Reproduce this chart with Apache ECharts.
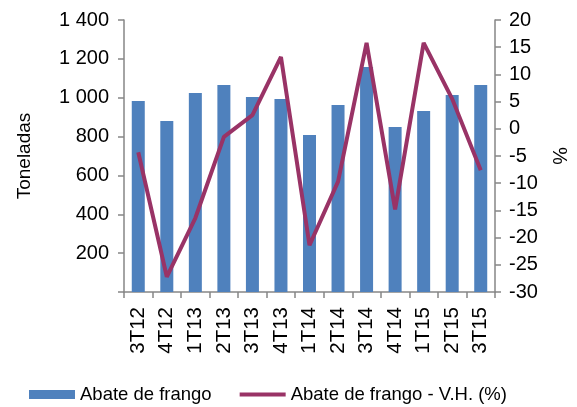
<!DOCTYPE html>
<html>
<head>
<meta charset="utf-8">
<script src="https://cdn.jsdelivr.net/npm/echarts@6/dist/echarts.min.js"></script>
<style>
html, body { margin: 0; padding: 0; background: #fff; }
#chart { width: 577px; height: 407px; }
</style>
</head>
<body>
<div id="chart"></div>
<script>
// trimestres
var categories = ['3T12', '4T12', '1T13', '2T13', '3T13', '4T13', '1T14', '2T14', '3T14', '4T14', '1T15', '2T15', '3T15'];
// toneladas
var abate = [983, 880, 1024, 1065, 1004, 993, 808, 962, 1158, 849, 932, 1014, 1065];
// variação homóloga (%)
var variacao = [-4.3, -27.2, -16.4, -1.5, 2.5, 13.2, -21.4, -9.7, 15.8, -14.8, 15.8, 5.5, -7.6];

var chart = echarts.init(document.getElementById('chart'));
var axisColor = '#868686';
var font = 'Liberation Sans, Arial, sans-serif';

var option = {
    animation: false,
    textStyle: { fontFamily: font, color: '#000' },
    grid: {
        left: 124,
        right: 77,
        top: 20,
        bottom: 115
    },
    legend: {
        bottom: -2,
        left: 24,
        itemWidth: 46,
        itemHeight: 9,
        itemGap: 28,
        textStyle: { fontSize: 18.5, color: '#000', fontFamily: font },
        data: [
            { name: 'Abate de frango', icon: 'rect' },
            { name: 'Abate de frango - V.H. (%)', icon: 'path://M0,0L46,0L46,4L0,4Z' }
        ]
    },
    xAxis: [{
        type: 'category',
        data: categories,
        axisLine: { lineStyle: { color: axisColor, width: 1.5 } },
        axisTick: { show: true, length: 6, alignWithLabel: false, lineStyle: { color: axisColor, width: 1.5 } },
        axisLabel: { rotate: 90, fontSize: 20.5, color: '#000', margin: 15 },
        splitLine: { show: false }
    }],
    yAxis: [{
        type: 'value',
        min: 0,
        max: 1400,
        interval: 200,
        name: 'Toneladas',
        nameLocation: 'middle',
        nameGap: 90,
        nameTextStyle: { fontSize: 19, color: '#000' },
        axisLine: { show: true, lineStyle: { color: axisColor, width: 1.5 } },
        axisTick: { show: true, inside: false, length: 6, lineStyle: { color: axisColor, width: 1.5 } },
        axisLabel: {
            fontSize: 20,
            color: '#000',
            margin: 15,
            formatter: function (v) {
                if (v === 0) return '';
                return String(v).replace(/\B(?=(\d{3})+(?!\d))/g, ' ');
            }
        },
        splitLine: { show: false }
    }, {
        type: 'value',
        min: -30,
        max: 20,
        interval: 5,
        position: 'right',
        name: '%',
        nameLocation: 'middle',
        nameGap: 54,
        nameRotate: -90,
        nameTextStyle: { fontSize: 20, color: '#000' },
        axisLine: { show: true, lineStyle: { color: axisColor, width: 1.5 } },
        axisTick: { show: true, length: 6, lineStyle: { color: axisColor, width: 1.5 } },
        axisLabel: { fontSize: 20, color: '#000', margin: 14 },
        splitLine: { show: false }
    }],
    series: [{
        name: 'Abate de frango',
        type: 'bar',
        yAxisIndex: 0,
        barWidth: 13,
        itemStyle: { color: '#4F81BD' },
        data: abate
    }, {
        name: 'Abate de frango - V.H. (%)',
        type: 'line',
        yAxisIndex: 1,
        symbol: 'none',
        lineStyle: { color: '#993366', width: 4 },
        itemStyle: { color: '#993366' },
        data: variacao
    }]
};
chart.setOption(option);
</script>
</body>
</html>
